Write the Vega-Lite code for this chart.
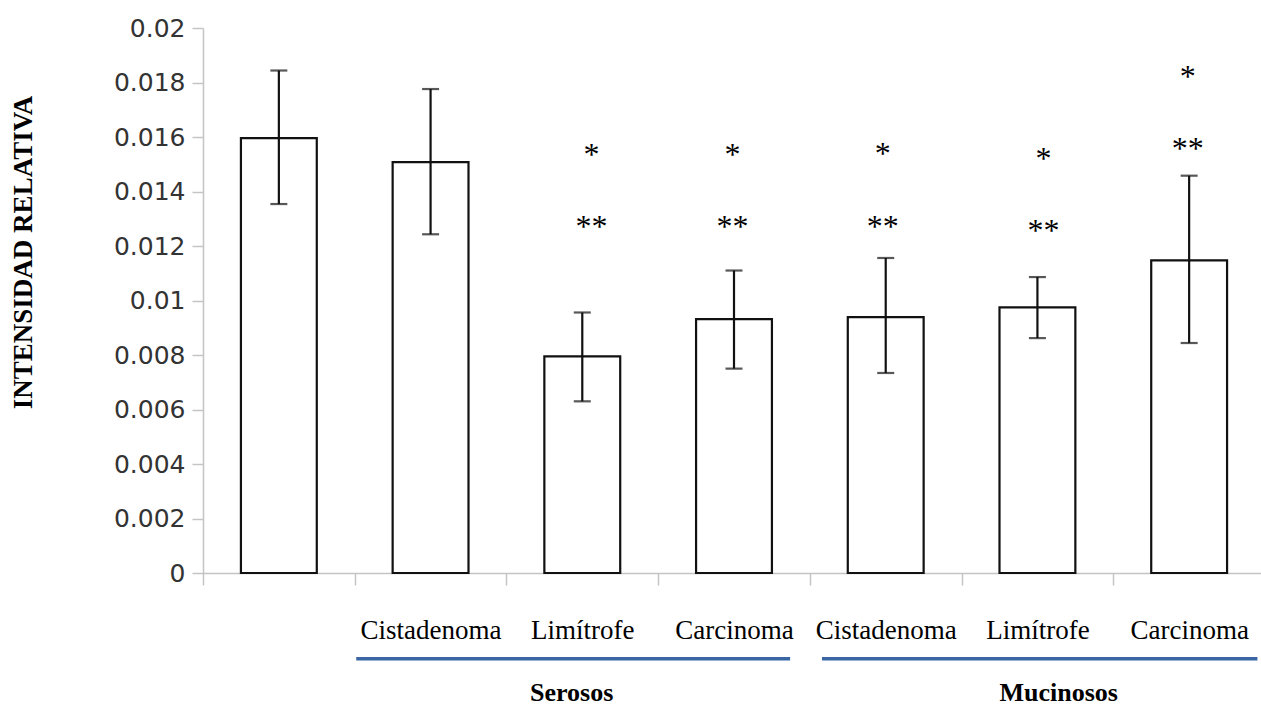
{
  "$schema": "https://vega.github.io/schema/vega-lite/v6.json",
  "width": 1062,
  "height": 545,
  "autosize": {"type": "none"},
  "padding": {"left": 203, "top": 28, "right": 0, "bottom": 134},
  "background": "white",
  "config": {"view": {"stroke": null}},
  "datasets": {
    "bars": [
      {"id": "0|", "v": 0.01596, "lo": 0.01354, "hi": 0.01844},
      {"id": "1|Cistadenoma", "v": 0.01508, "lo": 0.01243, "hi": 0.01776},
      {"id": "2|Limítrofe", "v": 0.00795, "lo": 0.0063, "hi": 0.00956},
      {"id": "3|Carcinoma", "v": 0.00932, "lo": 0.0075, "hi": 0.0111},
      {"id": "4|Cistadenoma", "v": 0.00939, "lo": 0.00734, "hi": 0.01156},
      {"id": "5|Limítrofe", "v": 0.00975, "lo": 0.00862, "hi": 0.01086},
      {"id": "6|Carcinoma", "v": 0.01147, "lo": 0.00844, "hi": 0.01458}
    ],
    "stars": [
      {"xp": 2.56, "yp": 0.01556, "t": "*"},
      {"xp": 2.56, "yp": 0.0129, "t": "**"},
      {"xp": 3.49, "yp": 0.01556, "t": "*"},
      {"xp": 3.49, "yp": 0.0129, "t": "**"},
      {"xp": 4.48, "yp": 0.0156, "t": "*"},
      {"xp": 4.48, "yp": 0.0129, "t": "**"},
      {"xp": 5.54, "yp": 0.01541, "t": "*"},
      {"xp": 5.54, "yp": 0.01278, "t": "**"},
      {"xp": 6.49, "yp": 0.01844, "t": "*"},
      {"xp": 6.49, "yp": 0.01578, "t": "**"}
    ],
    "groups": [
      {"g": "Serosos", "x1": 1.01, "x2": 3.87, "xm": 2.43, "yl": -0.003145, "yt": -0.00439},
      {"g": "Mucinosos", "x1": 4.08, "x2": 6.95, "xm": 5.64, "yl": -0.003145, "yt": -0.00439}
    ]
  },
  "resolve": {
    "scale": {"x": "independent", "y": "independent"},
    "axis": {"x": "independent", "y": "independent"}
  },
  "layer": [
    {
      "data": {"name": "bars"},
      "encoding": {
        "x": {
          "field": "id",
          "type": "nominal",
          "sort": null,
          "scale": {"paddingInner": 0, "paddingOuter": 0},
          "axis": {
            "title": null,
            "labelExpr": "split(datum.value, '|')[1]",
            "labelAngle": 0,
            "labelFont": "Liberation Serif",
            "labelFontSize": 27,
            "labelColor": "#000000",
            "labelBaseline": "middle",
            "labelPadding": 45,
            "tickBand": "extent",
            "tickSize": 12,
            "tickColor": "#c4c4c4",
            "tickWidth": 1.5,
            "domainColor": "#c4c4c4",
            "domainWidth": 1.5,
            "grid": false
          }
        }
      },
      "layer": [
        {
          "mark": {"type": "bar", "fill": "white", "stroke": "#111111", "strokeWidth": 2.2, "width": {"band": 0.5}},
          "encoding": {
            "y": {
              "field": "v",
              "type": "quantitative",
              "scale": {"domain": [0, 0.02], "nice": false},
              "axis": {
                "title": "INTENSIDAD  RELATIVA",
                "titleFont": "Liberation Serif",
                "titleFontWeight": "bold",
                "titleFontSize": 27,
                "titleColor": "#000000",
                "titleX": -180,
                "titleY": 224,
                "titleAngle": -90,
                "titleAlign": "center",
                "titleBaseline": "middle",
                "values": [0, 0.002, 0.004, 0.006, 0.008, 0.01, 0.012, 0.014, 0.016, 0.018, 0.02],
                "format": "~g",
                "labelFont": "DejaVu Sans",
                "labelFontSize": 25,
                "labelColor": "#333333",
                "labelPadding": 7,
                "tickSize": 11,
                "tickColor": "#c4c4c4",
                "tickWidth": 1.5,
                "domainColor": "#c4c4c4",
                "domainWidth": 1.5,
                "grid": false
              }
            }
          }
        },
        {
          "mark": {"type": "rule", "stroke": "#111111", "strokeWidth": 2.2},
          "encoding": {
            "y": {"field": "lo", "type": "quantitative"},
            "y2": {"field": "hi"}
          }
        },
        {
          "mark": {"type": "tick", "color": "#111111", "size": 17, "thickness": 2.2, "orient": "horizontal"},
          "encoding": {"y": {"field": "lo", "type": "quantitative"}}
        },
        {
          "mark": {"type": "tick", "color": "#111111", "size": 17, "thickness": 2.2, "orient": "horizontal"},
          "encoding": {"y": {"field": "hi", "type": "quantitative"}}
        }
      ]
    },
    {
      "layer": [
        {
          "data": {"name": "stars"},
          "mark": {"type": "text", "font": "Liberation Serif", "fontSize": 32, "color": "#000000", "baseline": "middle", "align": "center", "dy": 6, "clip": false},
          "encoding": {
            "x": {"field": "xp", "type": "quantitative", "scale": {"domain": [0, 7], "nice": false, "zero": false}, "axis": null},
            "y": {"field": "yp", "type": "quantitative", "scale": {"domain": [0, 0.02], "nice": false}, "axis": null},
            "text": {"field": "t"}
          }
        },
        {
          "data": {"name": "groups"},
          "mark": {"type": "rule", "stroke": "#3B66A6", "strokeWidth": 3.5, "clip": false},
          "encoding": {
            "x": {"field": "x1", "type": "quantitative"},
            "x2": {"field": "x2"},
            "y": {"field": "yl", "type": "quantitative"}
          }
        },
        {
          "data": {"name": "groups"},
          "mark": {"type": "text", "font": "Liberation Serif", "fontSize": 26, "fontWeight": "bold", "color": "#000000", "baseline": "middle", "align": "center", "clip": false},
          "encoding": {
            "x": {"field": "xm", "type": "quantitative"},
            "y": {"field": "yt", "type": "quantitative"},
            "text": {"field": "g"}
          }
        }
      ]
    }
  ]
}
